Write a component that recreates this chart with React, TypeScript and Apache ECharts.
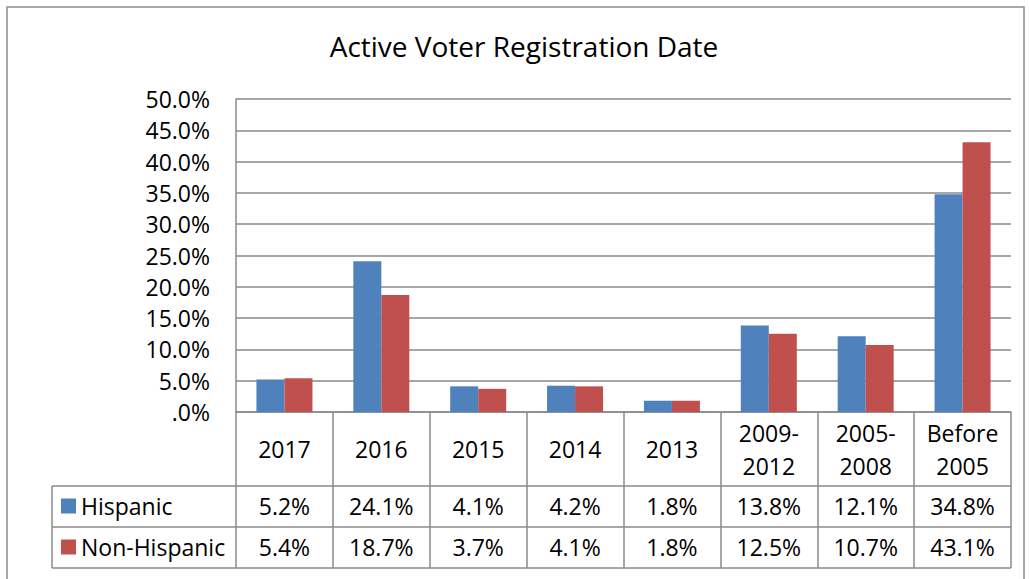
import React, { useEffect, useRef } from "react";
import * as echarts from "echarts";

const categories = ["2017", "2016", "2015", "2014", "2013", "2009-\n2012", "2005-\n2008", "Before\n2005"];
const hispanic = [5.2, 24.1, 4.1, 4.2, 1.8, 13.8, 12.1, 34.8];
const nonHispanic = [5.4, 18.7, 3.7, 4.1, 1.8, 12.5, 10.7, 43.1];
const seriesNames = ["Hispanic", "Non-Hispanic"];
const titleText = "Active Voter Registration Date";

const FONT = "Open Sans";
const GRID = "#8a8a8a";
const FS = 23;

export default function App() {
  const ref = useRef<HTMLDivElement>(null);
  useEffect(() => {
    if (!ref.current) return;
    const chart = echarts.init(ref.current, null, { renderer: "svg" });
    const fmt = (v: number) => v.toFixed(1) + "%";
    const hiddenAxis = {
      type: "category" as const,
      data: [] as string[],
      position: "bottom" as const,
      axisLine: { show: false },
      axisTick: { show: false },
      splitLine: { show: false },
    };
    chart.setOption({
      animation: false,
      backgroundColor: "#ffffff",
      textStyle: { fontFamily: FONT },
      title: {
        text: titleText,
        left: 519,
        top: 27,
        textAlign: "center",
        textStyle: { fontFamily: FONT, fontSize: 28, fontWeight: "normal", color: "#000" },
      },
      legend: {
        orient: "vertical",
        left: 61,
        top: 493,
        padding: 0,
        itemGap: 15,
        itemWidth: 15,
        itemHeight: 15,
        icon: "rect",
        data: seriesNames,
        textStyle: { fontFamily: FONT, fontSize: FS, lineHeight: 26, color: "#000" },
      },
      grid: { left: 236, right: 18, top: 99, bottom: 167 },
      xAxis: [
        {
          type: "category",
          data: categories,
          position: "bottom",
          axisLine: { show: true, lineStyle: { color: GRID, width: 1.5 } },
          axisTick: { show: true, length: 156, interval: 0, lineStyle: { color: GRID, width: 1.5 } },
          axisLabel: {
            interval: 0,
            margin: 37,
            verticalAlign: "middle",
            fontFamily: FONT,
            fontSize: FS,
            lineHeight: 33,
            color: "#000",
          },
        },
        {
          ...hiddenAxis,
          data: hispanic.map(fmt),
          axisLabel: { interval: 0, margin: 94, verticalAlign: "middle", fontFamily: FONT, fontSize: FS, color: "#000" },
        },
        {
          ...hiddenAxis,
          data: nonHispanic.map(fmt),
          axisLabel: { interval: 0, margin: 135, verticalAlign: "middle", fontFamily: FONT, fontSize: FS, color: "#000" },
        },
      ],
      yAxis: {
        type: "value",
        min: 0,
        max: 50,
        interval: 5,
        axisLine: { show: true, lineStyle: { color: GRID, width: 1.5 } },
        axisTick: { show: false },
        splitLine: { show: true, lineStyle: { color: GRID, width: 1.5 } },
        axisLabel: {
          margin: 26,
          fontFamily: FONT,
          fontSize: FS,
          color: "#000",
          formatter: (v: number) => (v === 0 ? ".0%" : v.toFixed(1) + "%"),
        },
      },
      series: [
        {
          name: seriesNames[0],
          type: "bar",
          data: hispanic,
          barWidth: 28,
          barGap: "0%",
          itemStyle: { color: "#4F81BD" },
        },
        {
          name: seriesNames[1],
          type: "bar",
          data: nonHispanic,
          barWidth: 28,
          barGap: "0%",
          itemStyle: { color: "#C0504D" },
        },
      ],
      graphic: [
        {
          type: "rect",
          shape: { x: 7, y: 7, width: 1017, height: 600 },
          style: { fill: "none", stroke: "#8c8c8c", lineWidth: 1.5 },
          silent: true,
        },
        { type: "line", shape: { x1: 52, y1: 486, x2: 1011, y2: 486 }, style: { stroke: GRID, lineWidth: 1.5 } },
        { type: "line", shape: { x1: 52, y1: 527, x2: 1011, y2: 527 }, style: { stroke: GRID, lineWidth: 1.5 } },
        { type: "line", shape: { x1: 52, y1: 568, x2: 1011, y2: 568 }, style: { stroke: GRID, lineWidth: 1.5 } },
        { type: "line", shape: { x1: 52, y1: 486, x2: 52, y2: 568 }, style: { stroke: GRID, lineWidth: 1.5 } },
      ],
    });
    return () => chart.dispose();
  }, []);
  return <div ref={ref} style={{ position: "fixed", left: 0, top: 0, width: 1029, height: 579 }} />;
}
